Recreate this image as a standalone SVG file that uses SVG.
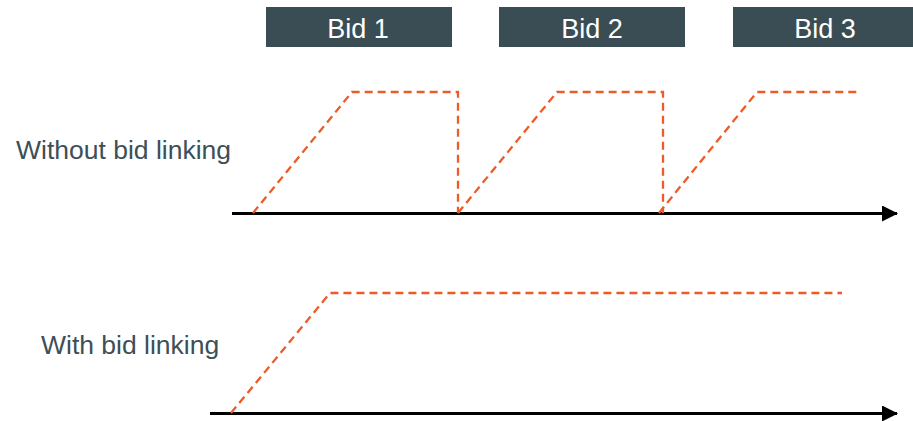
<svg xmlns="http://www.w3.org/2000/svg" width="913" height="421" viewBox="0 0 913 421">
<style>
.box{fill:#3a4d54}
.bt{font-family:"Liberation Sans",Arial,sans-serif;font-size:27px;fill:#ffffff;text-anchor:middle}
.lbl{font-family:"Liberation Sans",Arial,sans-serif;font-size:26.5px;fill:#3d4f57}
.axis{stroke:#000;stroke-width:3;fill:none}
.dash{stroke:#ec5b28;stroke-width:2.3;stroke-dasharray:8 5;fill:none}
</style>
<defs>
<marker id="arr" markerWidth="16" markerHeight="16" refX="15" refY="8" orient="auto" markerUnits="userSpaceOnUse">
<path d="M0,0 L16,8 L0,16 Z" fill="#000"/>
</marker>
</defs>
<rect width="913" height="421" fill="#ffffff"/>
<g id="bid1"><rect class="box" x="266" y="7" width="186" height="40"/><text class="bt" x="358" y="38">Bid 1</text></g>
<g id="bid2"><rect class="box" x="499" y="7" width="186" height="40"/><text class="bt" x="592" y="38">Bid 2</text></g>
<g id="bid3"><rect class="box" x="733" y="7" width="180" height="40"/><text class="bt" x="825" y="38">Bid 3</text></g>
<g id="label-without"><text class="lbl" x="16" y="159">Without bid linking</text></g>
<g id="label-with"><text class="lbl" x="41" y="354">With bid linking</text></g>
<g id="connectors">
<line class="axis" x1="232" y1="213.5" x2="897" y2="213.5" marker-end="url(#arr)"/>
<line class="axis" x1="210" y1="413.5" x2="897" y2="413.5" marker-end="url(#arr)"/>
<path class="dash" d="M253,213 L352,92 L458,92 L458,213"/>
<path class="dash" d="M458,213 L557,92 L663,92 L663,213"/>
<path class="dash" d="M659,213 L757,92 L859,92"/>
<path class="dash" d="M231,413 L330,293 L842,293"/>
</g>
</svg>
